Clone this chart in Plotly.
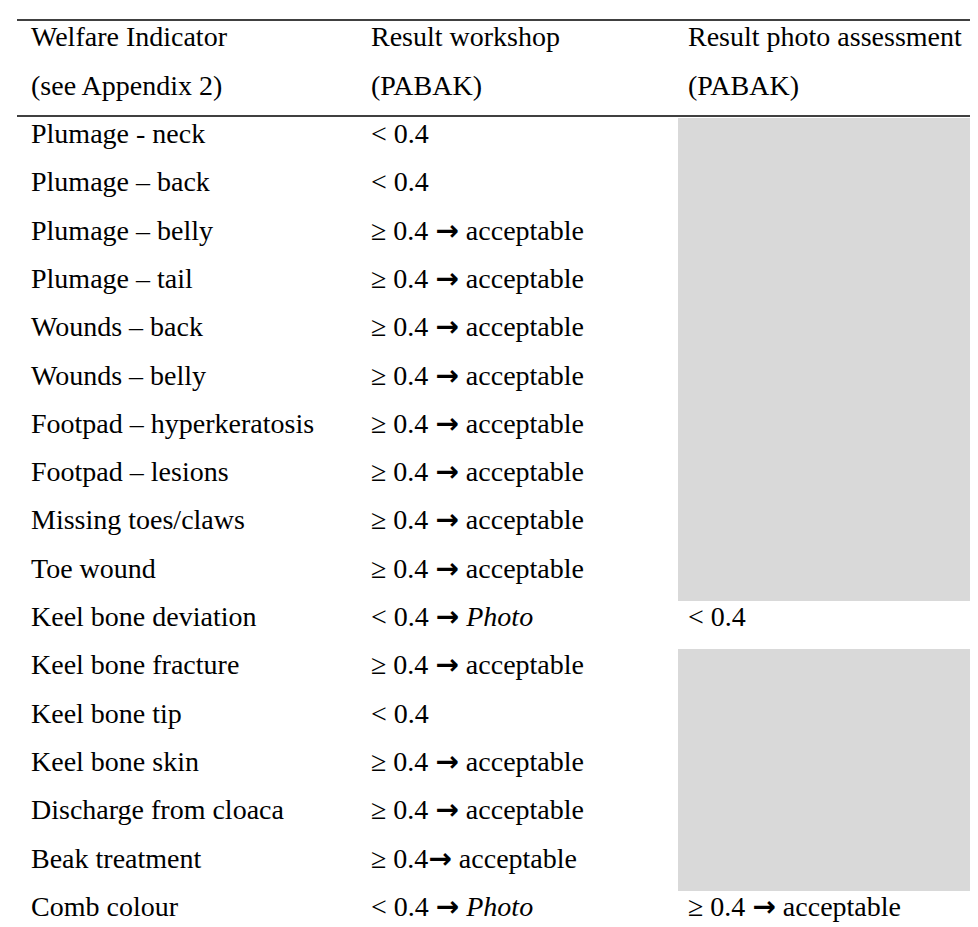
import plotly.graph_objects as go

# ---------------- data ----------------
header_line1 = ["Welfare Indicator", "Result workshop", "Result photo assessment"]
header_line2 = ["(see Appendix 2)", "(PABAK)", "(PABAK)"]

indicators = [
    "Plumage - neck", "Plumage – back", "Plumage – belly", "Plumage – tail",
    "Wounds – back", "Wounds – belly", "Footpad – hyperkeratosis",
    "Footpad – lesions", "Missing toes/claws", "Toe wound",
    "Keel bone deviation", "Keel bone fracture", "Keel bone tip",
    "Keel bone skin", "Discharge from cloaca", "Beak treatment", "Comb colour",
]
workshop = [
    "< 0.4", "< 0.4",
    "≥ 0.4 → acceptable", "≥ 0.4 → acceptable", "≥ 0.4 → acceptable",
    "≥ 0.4 → acceptable", "≥ 0.4 → acceptable", "≥ 0.4 → acceptable",
    "≥ 0.4 → acceptable", "≥ 0.4 → acceptable",
    "< 0.4 → Photo",
    "≥ 0.4 → acceptable", "< 0.4", "≥ 0.4 → acceptable",
    "≥ 0.4 → acceptable", "≥ 0.4→ acceptable",
    "< 0.4 → Photo",
]
photo = [""] * 10 + ["< 0.4"] + [""] * 5 + ["≥ 0.4 → acceptable"]

# ---------------- layout / style ----------------
W, H = 978, 927
FONT = "Liberation Serif"
FS = 28
GREY = "#D9D9D9"
col_text_x = [22, 362, 679]      # left edge of text in each column (px)
table_left, table_right = 9, 976
shade_left = 670
row_px = 48.3                    # row pitch in px
row0_px = 125.5                  # pixel centre of first body row's text
cell_offset = -0.32              # cell top relative to text centre (row units)
top_rule_px, mid_rule_px = 12, 108

# y axis in "row units": row i text centre at row0_px + i*row_px
y_top = -row0_px / row_px
y_bot = (H - row0_px) / row_px


def to_row(px):
    return (px - row0_px) / row_px


def fmt(s):
    s = s.replace("<", "&lt;")
    s = s.replace("→", "<b><span style=\"font-family:DejaVu Sans\">→</span></b>")
    s = s.replace("Photo", "<i>Photo</i>")
    return s


fig = go.Figure()

# grey (empty) cells of photo column
shaded_rows = [i for i, v in enumerate(photo) if v == ""]
fig.add_trace(go.Bar(
    orientation="h",
    y=shaded_rows,
    x=[table_right - shade_left] * len(shaded_rows),
    base=[shade_left] * len(shaded_rows),
    width=1.0,
    offset=cell_offset,
    marker=dict(color=GREY, line=dict(width=0)),
    hoverinfo="skip",
    showlegend=False,
))

annotations = []


def add_text(x, y, s):
    annotations.append(dict(
        x=x, y=y, xref="x", yref="y", text=fmt(s), showarrow=False,
        xanchor="left", yanchor="middle",
        font=dict(family=FONT, size=FS, color="black"),
        borderpad=0,
    ))


for c in range(3):
    add_text(col_text_x[c], -2, header_line1[c])
    add_text(col_text_x[c], -1, header_line2[c])

for i in range(len(indicators)):
    add_text(col_text_x[0], i, indicators[i])
    add_text(col_text_x[1], i, workshop[i])
    if photo[i]:
        add_text(col_text_x[2], i, photo[i])

shapes = []
for px in (top_rule_px, mid_rule_px):
    yy = to_row(px)
    shapes.append(dict(type="line", xref="x", yref="y",
                       x0=table_left, x1=table_right, y0=yy, y1=yy,
                       line=dict(color="black", width=1.6)))

fig.update_layout(
    width=W, height=H,
    margin=dict(l=0, r=0, t=0, b=0),
    paper_bgcolor="white", plot_bgcolor="white",
    xaxis=dict(range=[0, W], visible=False, fixedrange=True),
    yaxis=dict(range=[y_bot, y_top], visible=False, fixedrange=True),
    annotations=annotations,
    shapes=shapes,
    showlegend=False,
    bargap=0,
)

fig.write_html("out.html")
